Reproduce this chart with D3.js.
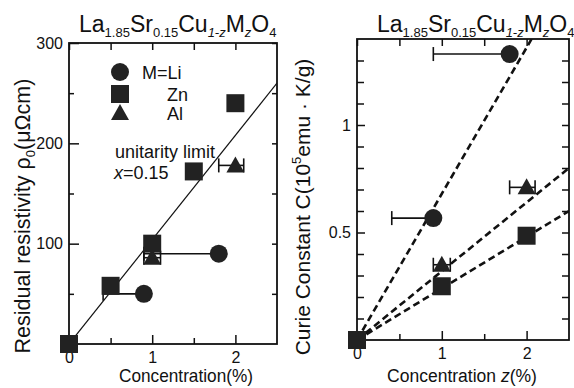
<!DOCTYPE html>
<html>
<head>
<meta charset="utf-8">
<script src="https://cdn.jsdelivr.net/npm/d3@7"></script>
<style>
  body { margin: 0; background: #fff; }
  svg { display: block; font-family: "Liberation Sans", Arial, sans-serif; }
  .tick text { font-size: 16px; fill: #111; }
</style>
</head>
<body>
<svg id="chart" width="574" height="388"></svg>
<script>
// ---- data: left panel, residual resistivity (µΩcm) vs concentration (%)
var liX = [0.9, 1.8],  liRho = [50, 90],  liXlo = [0.41, 0.9];
var znX = [0, 0.5, 1, 1.5, 2], znRho = [0, 58, 100, 172, 240];
var alX = [1, 2], alRho = [86, 178], alErrLo = [0.1, 0.2], alErrHi = [0.1, 0.1];
var unitaritySlope = 104;          // µΩcm per %

// ---- data: right panel, Curie constant vs z (%)
var liC = [0.567, 1.33];
var znC = [0, 0.25, 0.485];
var alC = [0.35, 0.71];
var fitSlopes = [0.68, 0.32, 0.24]; // Li, Al, Zn dashed fits

var titleParts = [["La",0],["1.85",1],["Sr",0],["0.15",1],["Cu",0],["1-z",2],["M",0],["z",2],["O",0],["4",1]];

var svg = d3.select('#chart');
var ink = '#111', fillc = '#222';

// scales
var lx = d3.scaleLinear().domain([0, 2.5]).range([69, 277]),
	ly = d3.scaleLinear().domain([0, 300]).range([344, 43]),
	rx = d3.scaleLinear().domain([0, 2.5]).range([357, 569]),
	ry = d3.scaleLinear().domain([0, 1.4]).range([340, 39]);

function frame(x, y, id) {
	var g = svg.append('g');
	var x0 = x.range()[0], x1 = x.range()[1], y0 = y.range()[1], y1 = y.range()[0];
	svg.append('clipPath').attr('id', id).append('rect')
		.attr('x', x0).attr('y', y0).attr('width', x1 - x0).attr('height', y1 - y0);
	return g;
}

function ticks(g, x, y, xMaj, xMin, yMaj, yMin, yFmt, majLen, minLen, yLen) {
	var x0 = x.range()[0], x1 = x.range()[1], yb = y.range()[0], yt = y.range()[1];
	function ax(gen, tr, keepText) {
		var a = g.append('g').attr('transform', tr).call(gen);
		a.select('.domain').remove();
		if (!keepText) a.selectAll('text').remove();
		a.selectAll('line').attr('stroke', ink).attr('stroke-width', 1.5);
		return a;
	}
	// bottom
	ax(d3.axisBottom(x).tickValues(xMaj).tickSize(-majLen).tickPadding(8).tickFormat(d3.format('d')), 'translate(0,' + yb + ')', true);
	ax(d3.axisBottom(x).tickValues(xMin).tickSize(-minLen), 'translate(0,' + yb + ')');
	// top
	ax(d3.axisTop(x).tickValues(xMaj.concat(xMin)).tickSize(-minLen - 1), 'translate(0,' + yt + ')');
	// left
	ax(d3.axisLeft(y).tickValues(yMaj).tickSize(-yLen[0]).tickPadding(6).tickFormat(yFmt), 'translate(' + x0 + ',0)', true);
	ax(d3.axisLeft(y).tickValues(yMin).tickSize(-yLen[1]), 'translate(' + x0 + ',0)');
	// right
	ax(d3.axisRight(y).tickValues(yMaj.concat(yMin)).tickSize(-yLen[1]), 'translate(' + x1 + ',0)');
	g.selectAll('.tick text').attr('fill', ink);
	g.append('rect').attr('x', x0).attr('y', yt).attr('width', x1 - x0).attr('height', yb - yt)
		.attr('fill', 'none').attr('stroke', ink).attr('stroke-width', 1.8);
}

// markers
function circle(g, cx, cy) {
	g.append('circle').attr('cx', cx).attr('cy', cy).attr('r', 9).attr('fill', fillc);
}
function square(g, cx, cy) {
	g.append('rect').attr('x', cx - 9).attr('y', cy - 9).attr('width', 18).attr('height', 18).attr('fill', fillc);
}
function triangle(g, cx, cy) {
	g.append('path').attr('d', 'M' + cx + ',' + (cy - 9) + 'L' + (cx + 9) + ',' + (cy + 7) + 'L' + (cx - 9) + ',' + (cy + 7) + 'Z')
		.attr('fill', fillc);
}
function errbar(g, xa, xb, cy, capA, capB) {
	g.append('line').attr('x1', xa).attr('x2', xb).attr('y1', cy).attr('y2', cy)
		.attr('stroke', ink).attr('stroke-width', 1.6);
	if (capA) g.append('line').attr('x1', xa).attr('x2', xa).attr('y1', cy - 7).attr('y2', cy + 7).attr('stroke', ink).attr('stroke-width', 1.6);
	if (capB) g.append('line').attr('x1', xb).attr('x2', xb).attr('y1', cy - 7).attr('y2', cy + 7).attr('stroke', ink).attr('stroke-width', 1.6);
}

function title(x, y) {
	var t = svg.append('text').attr('x', x).attr('y', y).attr('fill', ink).style('font-size', '23px');
	var prev = 0;
	titleParts.forEach(function(p) {
		var sub = p[1] > 0, shift = (sub ? 5 : 0) - prev;
		var s = t.append('tspan').text(p[0]).attr('dy', shift).style('font-size', sub ? '13px' : '23px');
		if (p[1] === 2) s.style('font-style', 'italic');
		prev = sub ? 5 : 0;
	});
}

function fitLabel(t, cx, y, w) {
	t.attr('text-anchor', 'middle').attr('x', 0).attr('y', 0);
	var bw = t.node().getBBox().width;
	t.attr('transform', 'translate(' + cx + ',' + y + ') scale(' + (w / bw) + ',1)');
}

// ================= left panel =================
var L = frame(lx, ly, 'clipL');
ticks(L, lx, ly, [0, 1, 2], [0.5, 1.5], [100, 200, 300], [50, 150, 250],
	d3.format('d'), 9, 6, [10, 5]);

L.append('line').attr('clip-path', 'url(#clipL)')
	.attr('x1', lx(0)).attr('y1', ly(0)).attr('x2', lx(2.5)).attr('y2', ly(2.5 * unitaritySlope))
	.attr('stroke', ink).attr('stroke-width', 1.2);

liX.forEach(function(d, i) { errbar(L, lx(liXlo[i]), lx(d), ly(liRho[i]), true, false); });
alX.forEach(function(d, i) { errbar(L, lx(d - alErrLo[i]), lx(d + alErrHi[i]), ly(alRho[i]), true, true); });
alX.forEach(function(d, i) { triangle(L, lx(d), ly(alRho[i])); });
znX.forEach(function(d, i) { square(L, lx(d), ly(znRho[i])); });
liX.forEach(function(d, i) { circle(L, lx(d), ly(liRho[i])); });

// legend
circle(L, 120, 72);  square(L, 120, 94);  triangle(L, 120, 113);
L.append('text').attr('x', 142).attr('y', 79).text('M=Li').style('font-size', '18px').attr('fill', ink);
L.append('text').attr('x', 167).attr('y', 101).text('Zn').style('font-size', '18px').attr('fill', ink);
L.append('text').attr('x', 167).attr('y', 120).text('Al').style('font-size', '18px').attr('fill', ink);

L.append('text').attr('x', 115).attr('y', 158).text('unitarity limit').style('font-size', '18px').attr('fill', ink);
var xt = L.append('text').attr('x', 114).attr('y', 179).style('font-size', '18px').attr('fill', ink);
xt.append('tspan').text('x').style('font-style', 'italic');
xt.append('tspan').text('=0.15');

title(79, 32);

var yl = svg.append('text').attr('transform', 'translate(30,216) rotate(-90)')
	.attr('text-anchor', 'middle').style('font-size', '21.5px').attr('fill', ink);
yl.append('tspan').text('Residual resistivity \u03c1');
yl.append('tspan').text('0').attr('dy', 5).style('font-size', '13px');
yl.append('tspan').text('(\u03bc\u03a9cm)').attr('dy', -5);

fitLabel(svg.append('text').text('Concentration(%)').style('font-size', '18px').attr('fill', ink), 186, 382, 134);

// ================= right panel =================
var R = frame(rx, ry, 'clipR');
var yMinR = d3.range(1, 14).filter(function(k) { return k !== 5 && k !== 10; }).map(function(k) { return k / 10; });
ticks(R, rx, ry, [0, 1, 2], [0.5, 1.5], [0.5, 1], yMinR,
	function(d) { return d === 1 ? '1' : '0.5'; }, 9, 6, [8, 7]);

fitSlopes.forEach(function(s) {
	R.append('line').attr('clip-path', 'url(#clipR)')
		.attr('x1', rx(0)).attr('y1', ry(0)).attr('x2', rx(2.5)).attr('y2', ry(2.5 * s))
		.attr('stroke', ink).attr('stroke-width', 2.6).attr('stroke-dasharray', '7,4');
});

liX.forEach(function(d, i) { errbar(R, rx(liXlo[i]), rx(d), ry(liC[i]), true, false); });
alX.forEach(function(d, i) { errbar(R, rx(d - alErrLo[i]), rx(d + alErrHi[i]), ry(alC[i]), true, true); });
alX.forEach(function(d, i) { triangle(R, rx(d), ry(alC[i])); });
[0, 1, 2].forEach(function(d, i) { square(R, rx(d), ry(znC[i])); });
liX.forEach(function(d, i) { circle(R, rx(d), ry(liC[i])); });

title(377, 32);

var yr = svg.append('text').attr('transform', 'translate(310,207) rotate(-90)')
	.attr('text-anchor', 'middle').style('font-size', '21px').attr('fill', ink);
yr.append('tspan').text('Curie Constant C(10');
yr.append('tspan').text('5').attr('dy', -9).style('font-size', '13px');
yr.append('tspan').text('emu \u00b7 K/g)').attr('dy', 9);

var xr = svg.append('text').style('font-size', '18px').attr('fill', ink);
xr.append('tspan').text('Concentration ');
xr.append('tspan').text('z').style('font-style', 'italic');
xr.append('tspan').text('(%)');
fitLabel(xr, 462, 382, 150);
</script>
</body>
</html>
